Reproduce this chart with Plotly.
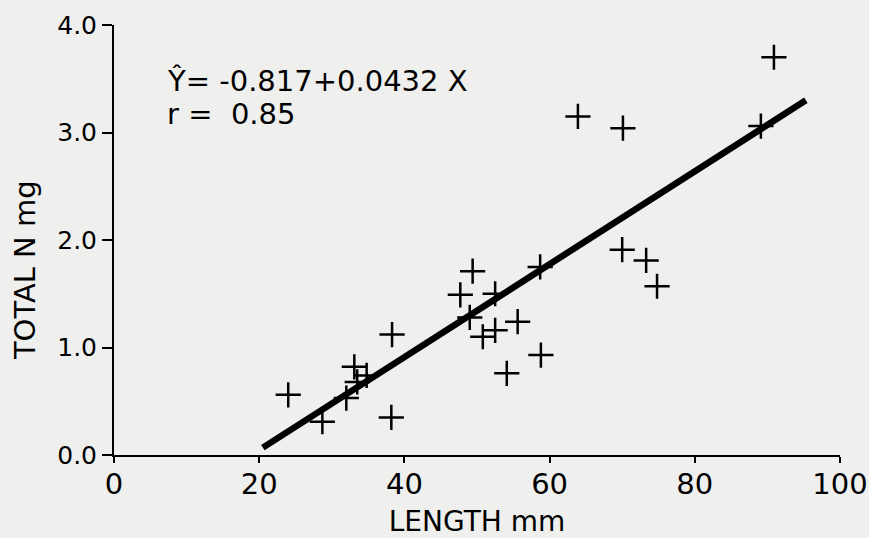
import plotly.graph_objects as go

# Data
length_mm = [24.0, 28.7, 32.0, 33.1, 33.5, 34.8, 38.3, 38.2, 47.7, 49.4, 49.0, 52.5,
             50.8, 52.5, 55.6, 54.1, 58.8, 58.7, 63.9, 70.0, 70.1, 73.3, 74.8, 89.1, 90.9]
total_n_mg = [0.56, 0.31, 0.53, 0.82, 0.68, 0.74, 1.12, 0.35, 1.49, 1.71, 1.28, 1.50,
              1.10, 1.16, 1.24, 0.76, 0.93, 1.75, 3.15, 1.91, 3.04, 1.81, 1.57, 3.06, 3.70]

intercept = -0.817
slope = 0.0432
fit_x = [20.5, 95.3]
fit_y = [intercept + slope * v for v in fit_x]

x_ticks = [0, 20, 40, 60, 80, 100]
x_tick_labels = ["0", "20", "40", "60", "80", "100"]
y_ticks = [0, 1, 2, 3, 4]
y_tick_labels = ["0.0", "1.0", "2.0", "3.0", "4.0"]

FONT = "'DejaVu Sans', sans-serif"
BG = "#efefed"

fig = go.Figure()
fig.add_trace(go.Scatter(
    x=fit_x, y=fit_y, mode="lines",
    line=dict(color="black", width=6.5), showlegend=False, hoverinfo="skip"))
fig.add_trace(go.Scatter(
    x=length_mm, y=total_n_mg, mode="markers",
    marker=dict(symbol="cross-thin", size=18, line=dict(color="black", width=2.5)),
    showlegend=False))

fig.add_annotation(x=7.0, y=3.48, xref="x", yref="y", xanchor="left", yanchor="middle",
                   text="Ŷ= -0.817+0.0432 X", showarrow=False,
                   font=dict(family=FONT, size=29, color="black"))
fig.add_annotation(x=7.0, y=3.17, xref="x", yref="y", xanchor="left", yanchor="middle",
                   text="r =  0.85", showarrow=False,
                   font=dict(family=FONT, size=29, color="black"))
# y-axis title (placed as in the reference, slightly below the axis centre)
fig.add_annotation(x=-0.1226, y=0.43, xref="paper", yref="paper",
                   xanchor="center", yanchor="middle", textangle=-90,
                   text="TOTAL N mg", showarrow=False,
                   font=dict(family=FONT, size=29, color="black"))

fig.update_xaxes(range=[0, 100], tickvals=x_ticks, ticktext=x_tick_labels,
                 showline=True, linecolor="black", linewidth=2, mirror=False,
                 ticks="outside", ticklen=6, tickwidth=1.5, tickcolor="black",
                 ticklabelstandoff=-4, automargin=False,
                 showgrid=False, zeroline=False,
                 tickfont=dict(family=FONT, size=29, color="black"),
                 title=dict(text="LENGTH mm", font=dict(family=FONT, size=28, color="black"),
                            standoff=20))
fig.update_yaxes(range=[0, 4], tickvals=y_ticks, ticktext=y_tick_labels,
                 showline=True, linecolor="black", linewidth=2, mirror=False,
                 ticks="outside", ticklen=10, tickwidth=1.5, tickcolor="black",
                 automargin=False,
                 showgrid=False, zeroline=False,
                 tickfont=dict(family=FONT, size=25, color="black"))

fig.update_layout(width=869, height=538,
                  margin=dict(l=114, r=29, t=25, b=83, autoexpand=False),
                  paper_bgcolor=BG, plot_bgcolor=BG)

fig.write_html("out.html", config={"displayModeBar": False},
               post_script="document.body.style.margin='0';document.body.style.background='" + BG + "';")
